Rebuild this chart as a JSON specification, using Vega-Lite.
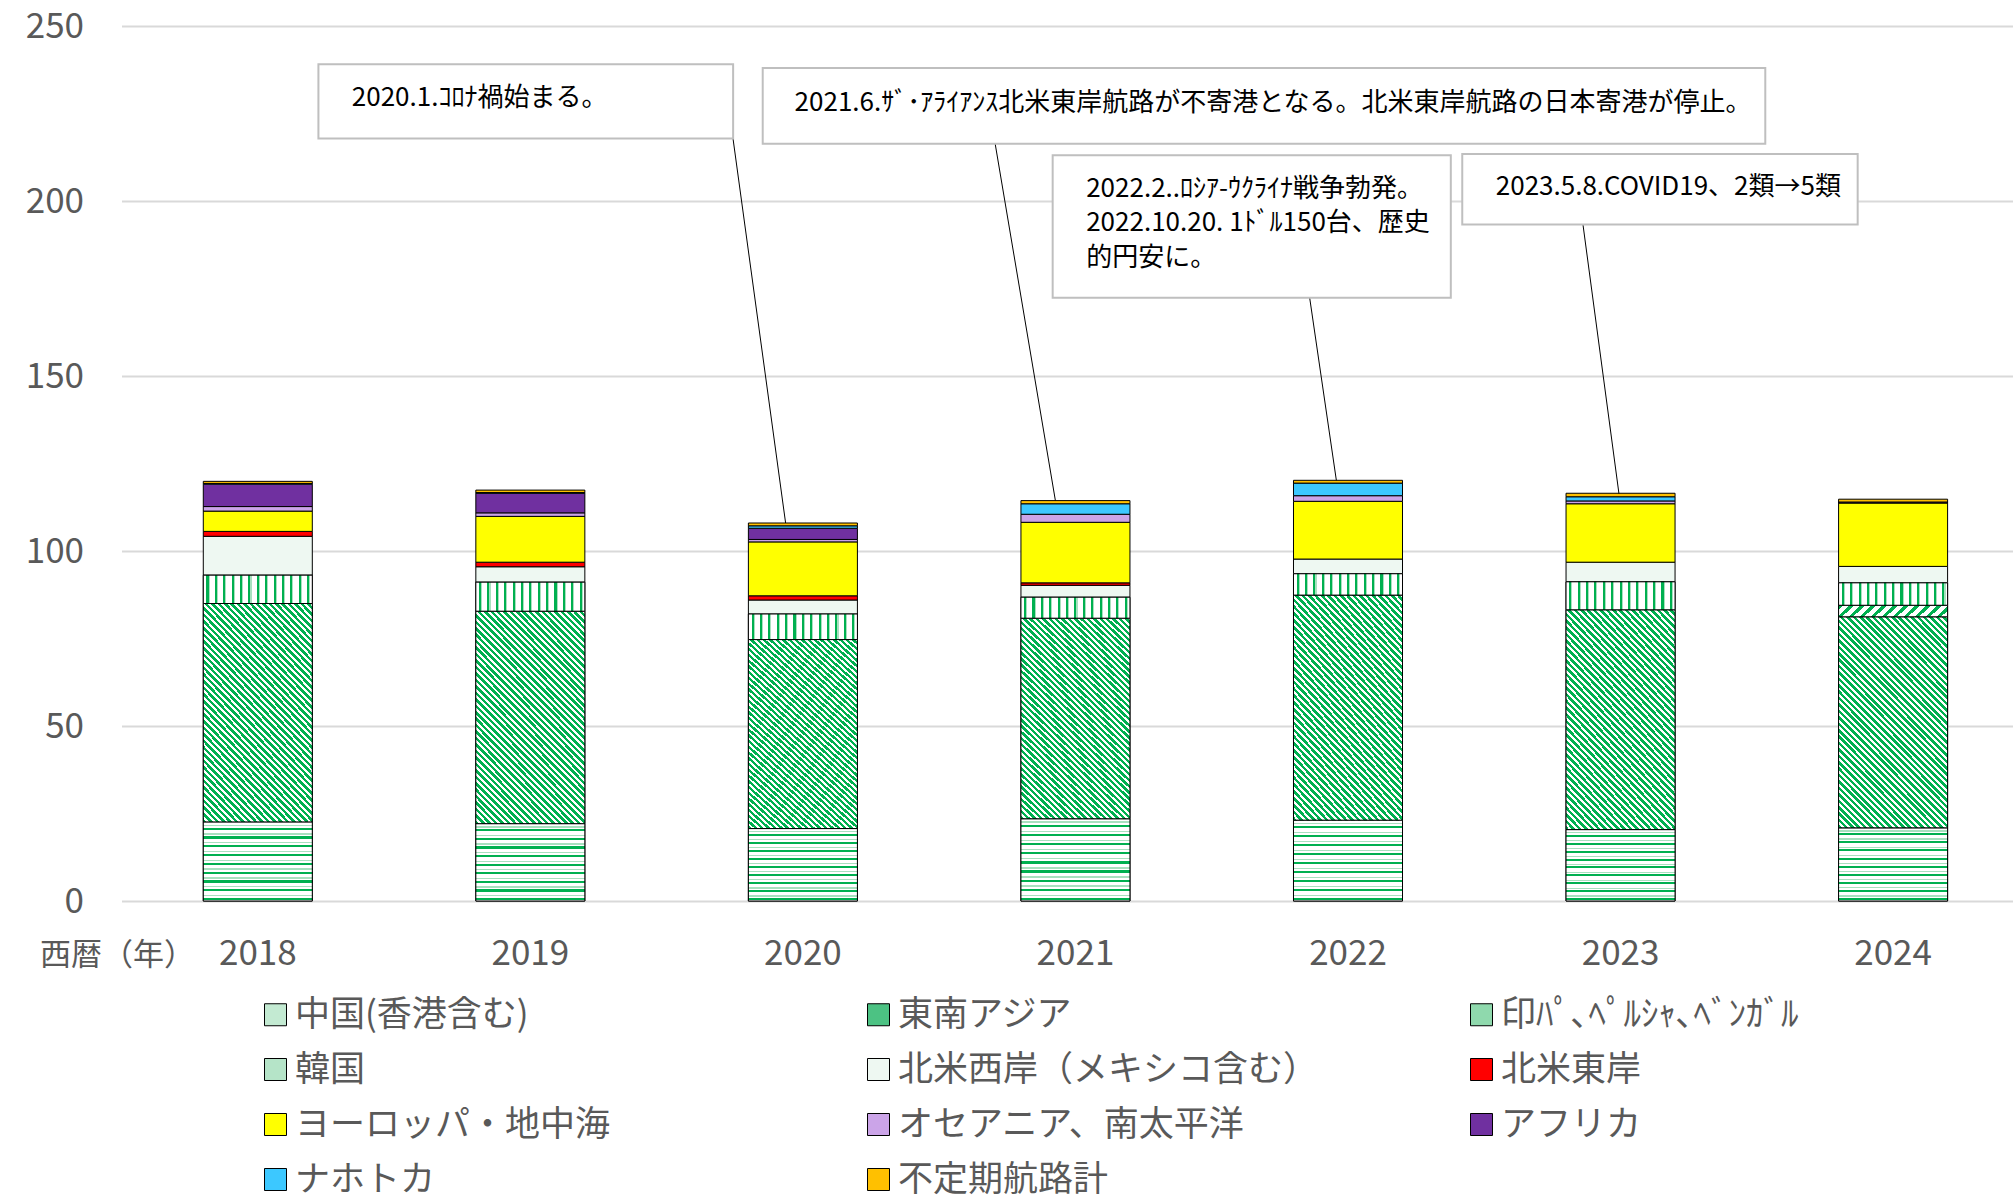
{
"$schema": "https://vega.github.io/schema/vega-lite/v6.json",
"width": 1891.5,
"height": 875,
"autosize": {"type": "none"},
"padding": {"left": 121.5, "top": 26, "right": 0, "bottom": 294},
"background": "white",
"config": {"view": {"stroke": null}, "font": "Noto Sans CJK JP"},
"datasets": {
"bars": [
{"year":"2018","region":"中国(香港含む)","value":22.6,"k":1},
{"year":"2018","region":"東南アジア","value":62.4,"k":2},
{"year":"2018","region":"韓国","value":8.1,"k":4},
{"year":"2018","region":"北米西岸（メキシコ含む）","value":11.1,"k":5},
{"year":"2018","region":"北米東岸","value":1.4,"k":6},
{"year":"2018","region":"ヨーロッパ・地中海","value":5.8,"k":7},
{"year":"2018","region":"オセアニア、南太平洋","value":1.3,"k":8},
{"year":"2018","region":"アフリカ","value":6.4,"k":9},
{"year":"2018","region":"ナホトカ","value":0.2,"k":10},
{"year":"2018","region":"不定期航路計","value":0.6,"k":11},
{"year":"2019","region":"中国(香港含む)","value":22.1,"k":1},
{"year":"2019","region":"東南アジア","value":60.7,"k":2},
{"year":"2019","region":"韓国","value":8.3,"k":4},
{"year":"2019","region":"北米西岸（メキシコ含む）","value":4.4,"k":5},
{"year":"2019","region":"北米東岸","value":1.3,"k":6},
{"year":"2019","region":"ヨーロッパ・地中海","value":13.1,"k":7},
{"year":"2019","region":"オセアニア、南太平洋","value":1.0,"k":8},
{"year":"2019","region":"アフリカ","value":5.6,"k":9},
{"year":"2019","region":"ナホトカ","value":0.2,"k":10},
{"year":"2019","region":"不定期航路計","value":0.7,"k":11},
{"year":"2020","region":"中国(香港含む)","value":20.7,"k":1},
{"year":"2020","region":"東南アジア","value":54.0,"k":2},
{"year":"2020","region":"韓国","value":7.3,"k":4},
{"year":"2020","region":"北米西岸（メキシコ含む）","value":4.0,"k":5},
{"year":"2020","region":"北米東岸","value":1.2,"k":6},
{"year":"2020","region":"ヨーロッパ・地中海","value":15.4,"k":7},
{"year":"2020","region":"オセアニア、南太平洋","value":0.7,"k":8},
{"year":"2020","region":"アフリカ","value":3.2,"k":9},
{"year":"2020","region":"ナホトカ","value":0.7,"k":10},
{"year":"2020","region":"不定期航路計","value":0.8,"k":11},
{"year":"2021","region":"中国(香港含む)","value":23.5,"k":1},
{"year":"2021","region":"東南アジア","value":57.3,"k":2},
{"year":"2021","region":"韓国","value":6.0,"k":4},
{"year":"2021","region":"北米西岸（メキシコ含む）","value":3.4,"k":5},
{"year":"2021","region":"北米東岸","value":0.7,"k":6},
{"year":"2021","region":"ヨーロッパ・地中海","value":17.3,"k":7},
{"year":"2021","region":"オセアニア、南太平洋","value":2.3,"k":8},
{"year":"2021","region":"ナホトカ","value":3.0,"k":10},
{"year":"2021","region":"不定期航路計","value":0.9,"k":11},
{"year":"2022","region":"中国(香港含む)","value":23.1,"k":1},
{"year":"2022","region":"東南アジア","value":64.3,"k":2},
{"year":"2022","region":"韓国","value":6.1,"k":4},
{"year":"2022","region":"北米西岸（メキシコ含む）","value":4.2,"k":5},
{"year":"2022","region":"ヨーロッパ・地中海","value":16.5,"k":7},
{"year":"2022","region":"オセアニア、南太平洋","value":1.6,"k":8},
{"year":"2022","region":"ナホトカ","value":3.6,"k":10},
{"year":"2022","region":"不定期航路計","value":0.8,"k":11},
{"year":"2023","region":"中国(香港含む)","value":20.4,"k":1},
{"year":"2023","region":"東南アジア","value":62.8,"k":2},
{"year":"2023","region":"韓国","value":8.0,"k":4},
{"year":"2023","region":"北米西岸（メキシコ含む）","value":5.6,"k":5},
{"year":"2023","region":"ヨーロッパ・地中海","value":16.7,"k":7},
{"year":"2023","region":"オセアニア、南太平洋","value":0.8,"k":8},
{"year":"2023","region":"ナホトカ","value":1.2,"k":10},
{"year":"2023","region":"不定期航路計","value":1.0,"k":11},
{"year":"2024","region":"中国(香港含む)","value":20.9,"k":1},
{"year":"2024","region":"東南アジア","value":60.3,"k":2},
{"year":"2024","region":"印ﾊﾟ､ﾍﾟﾙｼｬ､ﾍﾞﾝｶﾞﾙ","value":3.3,"k":3},
{"year":"2024","region":"韓国","value":6.4,"k":4},
{"year":"2024","region":"北米西岸（メキシコ含む）","value":4.7,"k":5},
{"year":"2024","region":"ヨーロッパ・地中海","value":18.1,"k":7},
{"year":"2024","region":"アフリカ","value":0.3,"k":9},
{"year":"2024","region":"不定期航路計","value":0.8,"k":11}
],
"boxes": [
{"x1":2018.2226,"x2":2019.7444,"y1":239.09,"y2":217.85},
{"x1":2019.853,"x2":2023.532,"y1":238.0,"y2":216.36},
{"x1":2020.917,"x2":2022.378,"y1":213.08,"y2":172.39},
{"x1":2022.42,"x2":2023.871,"y1":213.42,"y2":193.26}
],
"notes": [
{"tx":2018.345,"ty":229.55,"label":"2020.1.ｺﾛﾅ禍始まる。"},
{"tx":2019.97,"ty":228.1,"label":"2021.6.ｻﾞ･ｱﾗｲｱﾝｽ北米東岸航路が不寄港となる。北米東岸航路の日本寄港が停止。"},
{"tx":2021.04,"ty":203.54,"label":"2022.2..ﾛｼｱ-ｳｸﾗｲﾅ戦争勃発。"},
{"tx":2021.04,"ty":193.63,"label":"2022.10.20. 1ﾄﾞﾙ150台、歴史"},
{"tx":2021.04,"ty":183.75,"label":"的円安に。"},
{"tx":2022.543,"ty":203.91,"label":"2023.5.8.COVID19、2類→5類"}
],
"leaders": [
{"x1":2019.744,"y1":217.85,"x2":2019.937,"y2":108.0},
{"x1":2020.706,"y1":216.36,"x2":2020.927,"y2":114.4},
{"x1":2021.86,"y1":172.39,"x2":2021.958,"y2":120.2},
{"x1":2022.863,"y1":193.26,"x2":2022.995,"y2":116.4}
]
},
"layer": [
{
"data": {"name": "bars"},
"transform": [{"stack": "value", "groupby": ["year"], "sort": [{"field": "k", "order": "ascending"}], "as": ["v0", "v1"]}],
"encoding": {
"x": {"field": "year", "type": "nominal", "sort": null,
"scale": {"paddingInner": 0.6, "paddingOuter": 0.27, "align": 0.5557, "round": false},
"axis": {"labelAngle": 0, "labelFontSize": 35, "labelColor": "#595959", "labelPadding": 52.5, "labelBaseline": "middle", "ticks": false, "tickSize": 0, "domain": false, "grid": false,
"title": "西暦（年）", "titleX": -82, "titleY": 54, "titleAlign": "left", "titleBaseline": "middle", "titleFontSize": 31, "titleFontWeight": "normal", "titleColor": "#595959"}},
"y": {"field": "v1", "type": "quantitative",
"scale": {"domain": [0, 250], "nice": false},
"axis": {"values": [0, 50, 100, 150, 200, 250], "labelFontSize": 35, "labelColor": "#595959", "labelPadding": 38, "ticks": false, "domain": false, "gridColor": "#d9d9d9", "gridWidth": 2, "title": null}},
"y2": {"field": "v0"}
},
"layer": [
{
"mark": {"type": "bar", "stroke": "#000000", "strokeWidth": 1},
"encoding": {
"color": {"field": "region", "type": "nominal",
"scale": {
"domain": ["中国(香港含む)","東南アジア","印ﾊﾟ､ﾍﾟﾙｼｬ､ﾍﾞﾝｶﾞﾙ","韓国","北米西岸（メキシコ含む）","北米東岸","ヨーロッパ・地中海","オセアニア、南太平洋","アフリカ","ナホトカ","不定期航路計"],
"range": ["#c3ead2","#4cc283","#8fd9ad","#b5e4c8","#eef8f2","#ff0000","#ffff00","#cba4e8","#7030a0","#3cc8ff","#ffc000"]},
"legend": {"orient": "none", "legendX": 136.5, "legendY": 971, "direction": "horizontal", "columns": 3, "title": null,
"symbolType": "square", "symbolSize": 484, "symbolStrokeColor": "#000000", "symbolStrokeWidth": 1, "symbolOpacity": 1,
"labelFontSize": 35, "labelColor": "#595959", "labelLimit": 700, "labelOffset": 2,
"columnPadding": 145, "rowPadding": 19, "gridAlign": "all", "padding": 0,
"encode": {"symbols": {"update": {"stroke": {"value": "#000000"}, "strokeWidth": {"value": 1}}}}}}
}
},
{
"transform": [{"filter": "datum.region === '中国(香港含む)'"}],
"mark": {"type": "bar", "stroke": "#000000", "strokeWidth": 1,
"fill": {"gradient":"linear","x1":0,"y1":0,"x2":0,"y2":1,"stops":[
{"offset":0,"color":"#ffffff"},
{"offset":0.0333,"color":"#ffffff"},{"offset":0.0333,"color":"#a8e0bf"},{"offset":0.05,"color":"#a8e0bf"},{"offset":0.05,"color":"#ffffff"},{"offset":0.0722,"color":"#ffffff"},{"offset":0.0722,"color":"#00b050"},{"offset":0.1,"color":"#00b050"},{"offset":0.1,"color":"#ffffff"},
{"offset":0.1444,"color":"#ffffff"},{"offset":0.1444,"color":"#a8e0bf"},{"offset":0.1611,"color":"#a8e0bf"},{"offset":0.1611,"color":"#ffffff"},{"offset":0.1833,"color":"#ffffff"},{"offset":0.1833,"color":"#00b050"},{"offset":0.2111,"color":"#00b050"},{"offset":0.2111,"color":"#ffffff"},
{"offset":0.2556,"color":"#ffffff"},{"offset":0.2556,"color":"#a8e0bf"},{"offset":0.2722,"color":"#a8e0bf"},{"offset":0.2722,"color":"#ffffff"},{"offset":0.2944,"color":"#ffffff"},{"offset":0.2944,"color":"#00b050"},{"offset":0.3222,"color":"#00b050"},{"offset":0.3222,"color":"#ffffff"},
{"offset":0.3667,"color":"#ffffff"},{"offset":0.3667,"color":"#a8e0bf"},{"offset":0.3833,"color":"#a8e0bf"},{"offset":0.3833,"color":"#ffffff"},{"offset":0.4056,"color":"#ffffff"},{"offset":0.4056,"color":"#00b050"},{"offset":0.4333,"color":"#00b050"},{"offset":0.4333,"color":"#ffffff"},
{"offset":0.4778,"color":"#ffffff"},{"offset":0.4778,"color":"#a8e0bf"},{"offset":0.4944,"color":"#a8e0bf"},{"offset":0.4944,"color":"#ffffff"},{"offset":0.5167,"color":"#ffffff"},{"offset":0.5167,"color":"#00b050"},{"offset":0.5444,"color":"#00b050"},{"offset":0.5444,"color":"#ffffff"},
{"offset":0.5889,"color":"#ffffff"},{"offset":0.5889,"color":"#a8e0bf"},{"offset":0.6056,"color":"#a8e0bf"},{"offset":0.6056,"color":"#ffffff"},{"offset":0.6278,"color":"#ffffff"},{"offset":0.6278,"color":"#00b050"},{"offset":0.6556,"color":"#00b050"},{"offset":0.6556,"color":"#ffffff"},
{"offset":0.7,"color":"#ffffff"},{"offset":0.7,"color":"#a8e0bf"},{"offset":0.7167,"color":"#a8e0bf"},{"offset":0.7167,"color":"#ffffff"},{"offset":0.7389,"color":"#ffffff"},{"offset":0.7389,"color":"#00b050"},{"offset":0.7667,"color":"#00b050"},{"offset":0.7667,"color":"#ffffff"},
{"offset":0.8111,"color":"#ffffff"},{"offset":0.8111,"color":"#a8e0bf"},{"offset":0.8278,"color":"#a8e0bf"},{"offset":0.8278,"color":"#ffffff"},{"offset":0.85,"color":"#ffffff"},{"offset":0.85,"color":"#00b050"},{"offset":0.8778,"color":"#00b050"},{"offset":0.8778,"color":"#ffffff"},
{"offset":0.9222,"color":"#ffffff"},{"offset":0.9222,"color":"#a8e0bf"},{"offset":0.9389,"color":"#a8e0bf"},{"offset":0.9389,"color":"#ffffff"},{"offset":0.9611,"color":"#ffffff"},{"offset":0.9611,"color":"#00b050"},{"offset":0.9889,"color":"#00b050"},{"offset":0.9889,"color":"#ffffff"},
{"offset":1,"color":"#ffffff"}]}}
},
{
"transform": [{"filter": "datum.region === '東南アジア'"}],
"mark": {"type": "bar", "stroke": "#000000", "strokeWidth": 1,
"fill": {"gradient":"linear","x1":0,"y1":1,"x2":0.622,"y2":-0.197,"stops":[
{"offset":0,"color":"#00b050"},{"offset":0.011,"color":"#00b050"},{"offset":0.011,"color":"#ffffff"},{"offset":0.02,"color":"#ffffff"},
{"offset":0.02,"color":"#00b050"},{"offset":0.031,"color":"#00b050"},{"offset":0.031,"color":"#ffffff"},{"offset":0.04,"color":"#ffffff"},
{"offset":0.04,"color":"#00b050"},{"offset":0.051,"color":"#00b050"},{"offset":0.051,"color":"#ffffff"},{"offset":0.06,"color":"#ffffff"},
{"offset":0.06,"color":"#00b050"},{"offset":0.071,"color":"#00b050"},{"offset":0.071,"color":"#ffffff"},{"offset":0.08,"color":"#ffffff"},
{"offset":0.08,"color":"#00b050"},{"offset":0.091,"color":"#00b050"},{"offset":0.091,"color":"#ffffff"},{"offset":0.1,"color":"#ffffff"},
{"offset":0.1,"color":"#00b050"},{"offset":0.111,"color":"#00b050"},{"offset":0.111,"color":"#ffffff"},{"offset":0.12,"color":"#ffffff"},
{"offset":0.12,"color":"#00b050"},{"offset":0.131,"color":"#00b050"},{"offset":0.131,"color":"#ffffff"},{"offset":0.14,"color":"#ffffff"},
{"offset":0.14,"color":"#00b050"},{"offset":0.151,"color":"#00b050"},{"offset":0.151,"color":"#ffffff"},{"offset":0.16,"color":"#ffffff"},
{"offset":0.16,"color":"#00b050"},{"offset":0.171,"color":"#00b050"},{"offset":0.171,"color":"#ffffff"},{"offset":0.18,"color":"#ffffff"},
{"offset":0.18,"color":"#00b050"},{"offset":0.191,"color":"#00b050"},{"offset":0.191,"color":"#ffffff"},{"offset":0.2,"color":"#ffffff"},
{"offset":0.2,"color":"#00b050"},{"offset":0.211,"color":"#00b050"},{"offset":0.211,"color":"#ffffff"},{"offset":0.22,"color":"#ffffff"},
{"offset":0.22,"color":"#00b050"},{"offset":0.231,"color":"#00b050"},{"offset":0.231,"color":"#ffffff"},{"offset":0.24,"color":"#ffffff"},
{"offset":0.24,"color":"#00b050"},{"offset":0.251,"color":"#00b050"},{"offset":0.251,"color":"#ffffff"},{"offset":0.26,"color":"#ffffff"},
{"offset":0.26,"color":"#00b050"},{"offset":0.271,"color":"#00b050"},{"offset":0.271,"color":"#ffffff"},{"offset":0.28,"color":"#ffffff"},
{"offset":0.28,"color":"#00b050"},{"offset":0.291,"color":"#00b050"},{"offset":0.291,"color":"#ffffff"},{"offset":0.3,"color":"#ffffff"},
{"offset":0.3,"color":"#00b050"},{"offset":0.311,"color":"#00b050"},{"offset":0.311,"color":"#ffffff"},{"offset":0.32,"color":"#ffffff"},
{"offset":0.32,"color":"#00b050"},{"offset":0.331,"color":"#00b050"},{"offset":0.331,"color":"#ffffff"},{"offset":0.34,"color":"#ffffff"},
{"offset":0.34,"color":"#00b050"},{"offset":0.351,"color":"#00b050"},{"offset":0.351,"color":"#ffffff"},{"offset":0.36,"color":"#ffffff"},
{"offset":0.36,"color":"#00b050"},{"offset":0.371,"color":"#00b050"},{"offset":0.371,"color":"#ffffff"},{"offset":0.38,"color":"#ffffff"},
{"offset":0.38,"color":"#00b050"},{"offset":0.391,"color":"#00b050"},{"offset":0.391,"color":"#ffffff"},{"offset":0.4,"color":"#ffffff"},
{"offset":0.4,"color":"#00b050"},{"offset":0.411,"color":"#00b050"},{"offset":0.411,"color":"#ffffff"},{"offset":0.42,"color":"#ffffff"},
{"offset":0.42,"color":"#00b050"},{"offset":0.431,"color":"#00b050"},{"offset":0.431,"color":"#ffffff"},{"offset":0.44,"color":"#ffffff"},
{"offset":0.44,"color":"#00b050"},{"offset":0.451,"color":"#00b050"},{"offset":0.451,"color":"#ffffff"},{"offset":0.46,"color":"#ffffff"},
{"offset":0.46,"color":"#00b050"},{"offset":0.471,"color":"#00b050"},{"offset":0.471,"color":"#ffffff"},{"offset":0.48,"color":"#ffffff"},
{"offset":0.48,"color":"#00b050"},{"offset":0.491,"color":"#00b050"},{"offset":0.491,"color":"#ffffff"},{"offset":0.5,"color":"#ffffff"},
{"offset":0.5,"color":"#00b050"},{"offset":0.511,"color":"#00b050"},{"offset":0.511,"color":"#ffffff"},{"offset":0.52,"color":"#ffffff"},
{"offset":0.52,"color":"#00b050"},{"offset":0.531,"color":"#00b050"},{"offset":0.531,"color":"#ffffff"},{"offset":0.54,"color":"#ffffff"},
{"offset":0.54,"color":"#00b050"},{"offset":0.551,"color":"#00b050"},{"offset":0.551,"color":"#ffffff"},{"offset":0.56,"color":"#ffffff"},
{"offset":0.56,"color":"#00b050"},{"offset":0.571,"color":"#00b050"},{"offset":0.571,"color":"#ffffff"},{"offset":0.58,"color":"#ffffff"},
{"offset":0.58,"color":"#00b050"},{"offset":0.591,"color":"#00b050"},{"offset":0.591,"color":"#ffffff"},{"offset":0.6,"color":"#ffffff"},
{"offset":0.6,"color":"#00b050"},{"offset":0.611,"color":"#00b050"},{"offset":0.611,"color":"#ffffff"},{"offset":0.62,"color":"#ffffff"},
{"offset":0.62,"color":"#00b050"},{"offset":0.631,"color":"#00b050"},{"offset":0.631,"color":"#ffffff"},{"offset":0.64,"color":"#ffffff"},
{"offset":0.64,"color":"#00b050"},{"offset":0.651,"color":"#00b050"},{"offset":0.651,"color":"#ffffff"},{"offset":0.66,"color":"#ffffff"},
{"offset":0.66,"color":"#00b050"},{"offset":0.671,"color":"#00b050"},{"offset":0.671,"color":"#ffffff"},{"offset":0.68,"color":"#ffffff"},
{"offset":0.68,"color":"#00b050"},{"offset":0.691,"color":"#00b050"},{"offset":0.691,"color":"#ffffff"},{"offset":0.7,"color":"#ffffff"},
{"offset":0.7,"color":"#00b050"},{"offset":0.711,"color":"#00b050"},{"offset":0.711,"color":"#ffffff"},{"offset":0.72,"color":"#ffffff"},
{"offset":0.72,"color":"#00b050"},{"offset":0.731,"color":"#00b050"},{"offset":0.731,"color":"#ffffff"},{"offset":0.74,"color":"#ffffff"},
{"offset":0.74,"color":"#00b050"},{"offset":0.751,"color":"#00b050"},{"offset":0.751,"color":"#ffffff"},{"offset":0.76,"color":"#ffffff"},
{"offset":0.76,"color":"#00b050"},{"offset":0.771,"color":"#00b050"},{"offset":0.771,"color":"#ffffff"},{"offset":0.78,"color":"#ffffff"},
{"offset":0.78,"color":"#00b050"},{"offset":0.791,"color":"#00b050"},{"offset":0.791,"color":"#ffffff"},{"offset":0.8,"color":"#ffffff"},
{"offset":0.8,"color":"#00b050"},{"offset":0.811,"color":"#00b050"},{"offset":0.811,"color":"#ffffff"},{"offset":0.82,"color":"#ffffff"},
{"offset":0.82,"color":"#00b050"},{"offset":0.831,"color":"#00b050"},{"offset":0.831,"color":"#ffffff"},{"offset":0.84,"color":"#ffffff"},
{"offset":0.84,"color":"#00b050"},{"offset":0.851,"color":"#00b050"},{"offset":0.851,"color":"#ffffff"},{"offset":0.86,"color":"#ffffff"},
{"offset":0.86,"color":"#00b050"},{"offset":0.871,"color":"#00b050"},{"offset":0.871,"color":"#ffffff"},{"offset":0.88,"color":"#ffffff"},
{"offset":0.88,"color":"#00b050"},{"offset":0.891,"color":"#00b050"},{"offset":0.891,"color":"#ffffff"},{"offset":0.9,"color":"#ffffff"},
{"offset":0.9,"color":"#00b050"},{"offset":0.911,"color":"#00b050"},{"offset":0.911,"color":"#ffffff"},{"offset":0.92,"color":"#ffffff"},
{"offset":0.92,"color":"#00b050"},{"offset":0.931,"color":"#00b050"},{"offset":0.931,"color":"#ffffff"},{"offset":0.94,"color":"#ffffff"},
{"offset":0.94,"color":"#00b050"},{"offset":0.951,"color":"#00b050"},{"offset":0.951,"color":"#ffffff"},{"offset":0.96,"color":"#ffffff"},
{"offset":0.96,"color":"#00b050"},{"offset":0.971,"color":"#00b050"},{"offset":0.971,"color":"#ffffff"},{"offset":0.98,"color":"#ffffff"},
{"offset":0.98,"color":"#00b050"},{"offset":0.991,"color":"#00b050"},{"offset":0.991,"color":"#ffffff"},{"offset":1,"color":"#ffffff"}]}}
},
{
"transform": [{"filter": "datum.region === '印ﾊﾟ､ﾍﾟﾙｼｬ､ﾍﾞﾝｶﾞﾙ'"}],
"mark": {"type": "bar", "stroke": "#000000", "strokeWidth": 1,
"fill": {"gradient":"linear","x1":0,"y1":0,"x2":1.097,"y2":0.12,"stops":[
{"offset":0,"color":"#00b050"},{"offset":0.0364,"color":"#00b050"},{"offset":0.0364,"color":"#ffffff"},{"offset":0.0909,"color":"#ffffff"},
{"offset":0.0909,"color":"#00b050"},{"offset":0.1273,"color":"#00b050"},{"offset":0.1273,"color":"#ffffff"},{"offset":0.1818,"color":"#ffffff"},
{"offset":0.1818,"color":"#00b050"},{"offset":0.2182,"color":"#00b050"},{"offset":0.2182,"color":"#ffffff"},{"offset":0.2727,"color":"#ffffff"},
{"offset":0.2727,"color":"#00b050"},{"offset":0.3091,"color":"#00b050"},{"offset":0.3091,"color":"#ffffff"},{"offset":0.3636,"color":"#ffffff"},
{"offset":0.3636,"color":"#00b050"},{"offset":0.4,"color":"#00b050"},{"offset":0.4,"color":"#ffffff"},{"offset":0.4545,"color":"#ffffff"},
{"offset":0.4545,"color":"#00b050"},{"offset":0.4909,"color":"#00b050"},{"offset":0.4909,"color":"#ffffff"},{"offset":0.5455,"color":"#ffffff"},
{"offset":0.5455,"color":"#00b050"},{"offset":0.5818,"color":"#00b050"},{"offset":0.5818,"color":"#ffffff"},{"offset":0.6364,"color":"#ffffff"},
{"offset":0.6364,"color":"#00b050"},{"offset":0.6727,"color":"#00b050"},{"offset":0.6727,"color":"#ffffff"},{"offset":0.7273,"color":"#ffffff"},
{"offset":0.7273,"color":"#00b050"},{"offset":0.7636,"color":"#00b050"},{"offset":0.7636,"color":"#ffffff"},{"offset":0.8182,"color":"#ffffff"},
{"offset":0.8182,"color":"#00b050"},{"offset":0.8545,"color":"#00b050"},{"offset":0.8545,"color":"#ffffff"},{"offset":0.9091,"color":"#ffffff"},
{"offset":0.9091,"color":"#00b050"},{"offset":0.9455,"color":"#00b050"},{"offset":0.9455,"color":"#ffffff"},{"offset":1,"color":"#ffffff"}]}}
},
{
"transform": [{"filter": "datum.region === '韓国'"}],
"mark": {"type": "bar", "stroke": "#000000", "strokeWidth": 1,
"fill": {"gradient":"linear","x1":0,"y1":0,"x2":1,"y2":0,"stops":[
{"offset":0,"color":"#ffffff"},
{"offset":0.0288,"color":"#ffffff"},{"offset":0.0288,"color":"#00b050"},{"offset":0.0481,"color":"#00b050"},{"offset":0.0481,"color":"#a8e0bf"},{"offset":0.0577,"color":"#a8e0bf"},{"offset":0.0577,"color":"#ffffff"},
{"offset":0.1058,"color":"#ffffff"},{"offset":0.1058,"color":"#00b050"},{"offset":0.125,"color":"#00b050"},{"offset":0.125,"color":"#a8e0bf"},{"offset":0.1346,"color":"#a8e0bf"},{"offset":0.1346,"color":"#ffffff"},
{"offset":0.1827,"color":"#ffffff"},{"offset":0.1827,"color":"#00b050"},{"offset":0.2019,"color":"#00b050"},{"offset":0.2019,"color":"#a8e0bf"},{"offset":0.2115,"color":"#a8e0bf"},{"offset":0.2115,"color":"#ffffff"},
{"offset":0.2596,"color":"#ffffff"},{"offset":0.2596,"color":"#00b050"},{"offset":0.2788,"color":"#00b050"},{"offset":0.2788,"color":"#a8e0bf"},{"offset":0.2885,"color":"#a8e0bf"},{"offset":0.2885,"color":"#ffffff"},
{"offset":0.3365,"color":"#ffffff"},{"offset":0.3365,"color":"#00b050"},{"offset":0.3558,"color":"#00b050"},{"offset":0.3558,"color":"#a8e0bf"},{"offset":0.3654,"color":"#a8e0bf"},{"offset":0.3654,"color":"#ffffff"},
{"offset":0.4135,"color":"#ffffff"},{"offset":0.4135,"color":"#00b050"},{"offset":0.4327,"color":"#00b050"},{"offset":0.4327,"color":"#a8e0bf"},{"offset":0.4423,"color":"#a8e0bf"},{"offset":0.4423,"color":"#ffffff"},
{"offset":0.4904,"color":"#ffffff"},{"offset":0.4904,"color":"#00b050"},{"offset":0.5096,"color":"#00b050"},{"offset":0.5096,"color":"#a8e0bf"},{"offset":0.5192,"color":"#a8e0bf"},{"offset":0.5192,"color":"#ffffff"},
{"offset":0.5673,"color":"#ffffff"},{"offset":0.5673,"color":"#00b050"},{"offset":0.5865,"color":"#00b050"},{"offset":0.5865,"color":"#a8e0bf"},{"offset":0.5962,"color":"#a8e0bf"},{"offset":0.5962,"color":"#ffffff"},
{"offset":0.6442,"color":"#ffffff"},{"offset":0.6442,"color":"#00b050"},{"offset":0.6635,"color":"#00b050"},{"offset":0.6635,"color":"#a8e0bf"},{"offset":0.6731,"color":"#a8e0bf"},{"offset":0.6731,"color":"#ffffff"},
{"offset":0.7212,"color":"#ffffff"},{"offset":0.7212,"color":"#00b050"},{"offset":0.7404,"color":"#00b050"},{"offset":0.7404,"color":"#a8e0bf"},{"offset":0.75,"color":"#a8e0bf"},{"offset":0.75,"color":"#ffffff"},
{"offset":0.7981,"color":"#ffffff"},{"offset":0.7981,"color":"#00b050"},{"offset":0.8173,"color":"#00b050"},{"offset":0.8173,"color":"#a8e0bf"},{"offset":0.8269,"color":"#a8e0bf"},{"offset":0.8269,"color":"#ffffff"},
{"offset":0.875,"color":"#ffffff"},{"offset":0.875,"color":"#00b050"},{"offset":0.8942,"color":"#00b050"},{"offset":0.8942,"color":"#a8e0bf"},{"offset":0.9038,"color":"#a8e0bf"},{"offset":0.9038,"color":"#ffffff"},
{"offset":0.9519,"color":"#ffffff"},{"offset":0.9519,"color":"#00b050"},{"offset":0.9712,"color":"#00b050"},{"offset":0.9712,"color":"#a8e0bf"},{"offset":0.9808,"color":"#a8e0bf"},{"offset":0.9808,"color":"#ffffff"},
{"offset":1,"color":"#ffffff"}]}}
}
]
},
{
"data": {"name": "leaders"},
"mark": {"type": "rule", "color": "#000000", "strokeWidth": 1},
"encoding": {
"x": {"field": "x1", "type": "quantitative", "scale": {"domain": [2017.5, 2024.441], "nice": false, "zero": false}, "axis": null},
"x2": {"field": "x2"},
"y": {"field": "y1", "type": "quantitative"},
"y2": {"field": "y2"}
}
},
{
"data": {"name": "boxes"},
"mark": {"type": "rect", "fill": "#ffffff", "stroke": "#bfbfbf", "strokeWidth": 2},
"encoding": {
"x": {"field": "x1", "type": "quantitative", "scale": {"domain": [2017.5, 2024.441], "nice": false, "zero": false}, "axis": null},
"x2": {"field": "x2"},
"y": {"field": "y1", "type": "quantitative"},
"y2": {"field": "y2"}
}
},
{
"data": {"name": "notes"},
"mark": {"type": "text", "align": "left", "baseline": "middle", "fontSize": 26, "color": "#000000"},
"encoding": {
"x": {"field": "tx", "type": "quantitative", "scale": {"domain": [2017.5, 2024.441], "nice": false, "zero": false}, "axis": null},
"y": {"field": "ty", "type": "quantitative"},
"text": {"field": "label"}
}
}
],
"resolve": {"scale": {"x": "independent"}}
}
